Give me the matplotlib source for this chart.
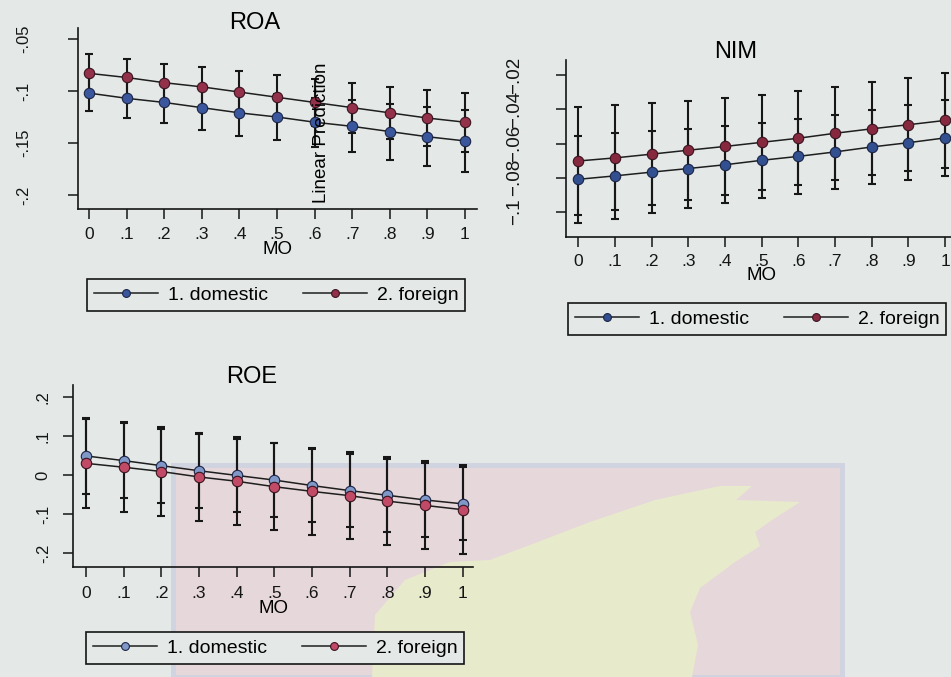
import matplotlib
matplotlib.use("Agg")
import matplotlib.pyplot as plt
from matplotlib.patches import Rectangle, Polygon

plt.rcParams['font.family'] = ['Liberation Sans', 'DejaVu Sans']

# margins over MO (0..1) for domestic / foreign banks, with CI half widths
mo = [0, .1, .2, .3, .4, .5, .6, .7, .8, .9, 1]
mo_labels = ["0", ".1", ".2", ".3", ".4", ".5", ".6", ".7", ".8", ".9", "1"]
groups = ["1. domestic", "2. foreign"]

roa_dom = [-0.102, -0.107, -0.111, -0.116, -0.121, -0.125, -0.130, -0.134, -0.139, -0.144, -0.148]
roa_dom_ci = [0.0177, 0.0186, 0.0199, 0.0212, 0.0221, 0.0225, 0.0236, 0.0250, 0.0269, 0.0282, 0.0301]
roa_for = [-0.083, -0.087, -0.092, -0.096, -0.101, -0.106, -0.111, -0.116, -0.121, -0.126, -0.130]
roa_for_ci = [0.0183, 0.0178, 0.0183, 0.0188, 0.0207, 0.0214, 0.0226, 0.0240, 0.0250, 0.0266, 0.0282]

nim_dom = [-0.0809, -0.0789, -0.0767, -0.0746, -0.0724, -0.0698, -0.0675, -0.0649, -0.0620, -0.0595, -0.0567]
nim_dom_ci = [0.0254, 0.0249, 0.0240, 0.0228, 0.0224, 0.0220, 0.0217, 0.0214, 0.0217, 0.0219, 0.0222]
nim_for = [-0.0702, -0.0684, -0.0662, -0.0639, -0.0617, -0.0593, -0.0569, -0.0540, -0.0514, -0.0490, -0.0465]
nim_for_ci = [0.0318, 0.0307, 0.0297, 0.0289, 0.0285, 0.0278, 0.0275, 0.0273, 0.0271, 0.0270, 0.0275]

roe_dom = [0.049, 0.037, 0.024, 0.011, -0.001, -0.013, -0.027, -0.040, -0.052, -0.064, -0.074]
roe_dom_ci = [0.097, 0.096, 0.095, 0.095, 0.094, 0.094, 0.094, 0.094, 0.094, 0.094, 0.094]
roe_for = [0.030, 0.020, 0.009, -0.005, -0.016, -0.030, -0.042, -0.053, -0.067, -0.078, -0.089]
roe_for_ci = [0.115, 0.115, 0.114, 0.113, 0.113, 0.112, 0.112, 0.112, 0.113, 0.113, 0.114]

roa_ticks = [-0.2, -0.15, -0.1, -0.05]
roa_ticklabels = ["-.2", "-.15", "-.1", "-.05"]
nim_ticks = [-0.1, -0.08, -0.06, -0.04, -0.02]
nim_ticklabels = ["\u2212.1", "\u2212.08", "\u2212.06", "\u2212.04", "\u2212.02"]
roe_ticks = [-0.2, -0.1, 0, 0.1, 0.2]
roe_ticklabels = ["-.2", "-.1", "0", ".1", ".2"]

W, H = 951, 677
BG = '#e4e9e8'


def px_rect(left, top, right, bottom):
    return [left / W, 1 - bottom / H, (right - left) / W, (bottom - top) / H]


def fig_xy(x, y):
    return x / W, 1 - y / H


def draw_panel(ax, dom, dom_ci, forn, forn_ci, cols, xlim, ylim, yticks, ylabels,
               ysize, ypad, xpad, legend_at):
    ax.patch.set_visible(False)
    for s in ['top', 'right']:
        ax.spines[s].set_visible(False)
    for s in ['left', 'bottom']:
        ax.spines[s].set_linewidth(1.2)
        ax.spines[s].set_color('#151515')

    ax.errorbar(mo, dom, yerr=dom_ci, fmt='none', ecolor='#171717',
                elinewidth=1.5, capsize=3, capthick=1.5, zorder=2)
    ax.errorbar(mo, forn, yerr=forn_ci, fmt='none', ecolor='#171717',
                elinewidth=1.5, capsize=3, capthick=1.5, zorder=2)
    l1, = ax.plot(mo, dom, '-o', color='#1e1e1e', lw=1.1, ms=7.5,
                  mfc=cols[0], mec='#1c2445', mew=0.8, zorder=3, label=groups[0])
    l2, = ax.plot(mo, forn, '-o', color='#1e1e1e', lw=1.1, ms=7.5,
                  mfc=cols[1], mec='#3a1420', mew=0.8, zorder=3, label=groups[1])

    ax.set_xlim(*xlim)
    ax.set_ylim(*ylim)
    ax.set_xticks(mo)
    ax.set_xticklabels(mo_labels, fontsize=12.5)
    ax.set_yticks(yticks)
    ax.set_yticklabels(ylabels, fontsize=ysize, rotation=90, va='center')
    ax.tick_params(axis='x', length=7, width=1.1, pad=xpad, colors='#151515')
    ax.tick_params(axis='y', length=7, width=1.1, pad=ypad, colors='#151515')
    ax.set_xlabel('MO', fontsize=13.5, labelpad=-1)

    leg = ax.legend(handles=[l1, l2], ncol=2, loc='center',
                    bbox_to_anchor=fig_xy(*legend_at), bbox_transform=fig.transFigure,
                    fontsize=14, frameon=True, fancybox=False, edgecolor='#151515',
                    facecolor=BG, framealpha=1, handlelength=3.3, handletextpad=0.5,
                    columnspacing=1.8, borderpad=0.35, markerscale=0.75)
    leg.get_frame().set_linewidth(1.2)


fig = plt.figure(figsize=(W / 100, H / 100), dpi=100, facecolor=BG)

# faint crest watermark behind the lower panel
fig.patches.append(Rectangle(fig_xy(173, 677), (842 - 173) / W, (677 - 465) / H,
                             transform=fig.transFigure, facecolor='#e6d8da',
                             edgecolor='#d0d3e0', lw=3.5, zorder=-2))
crest = [(372, 677), (375, 615), (405, 580), (450, 562), (490, 560), (530, 545),
         (590, 522), (655, 500), (720, 486), (752, 486), (736, 500), (800, 502),
         (772, 520), (755, 532), (760, 546), (735, 562), (700, 588), (690, 612),
         (698, 645), (692, 677)]
fig.patches.append(Polygon([fig_xy(x, y) for x, y in crest], closed=True,
                           transform=fig.transFigure, facecolor='#e8eacc',
                           edgecolor='none', zorder=-1))

ax_roa = fig.add_axes(px_rect(78, 28, 477, 209))
draw_panel(ax_roa, roa_dom, roa_dom_ci, roa_for, roa_for_ci, ['#3a579e', '#93304a'],
           (-0.029, 1.032), (-0.2135, -0.0394), roa_ticks, roa_ticklabels,
           12, 27, 6, (276, 295))

ax_nim = fig.add_axes(px_rect(566, 60, 958, 237))
draw_panel(ax_nim, nim_dom, nim_dom_ci, nim_for, nim_for_ci, ['#32508f', '#86283e'],
           (-0.033, 1.035), (-0.1146, -0.0112), nim_ticks, nim_ticklabels,
           13.5, 24, 5, (757, 319))

ax_roe = fig.add_axes(px_rect(73, 385, 473, 567))
draw_panel(ax_roe, roe_dom, roe_dom_ci, roe_for, roe_for_ci, ['#7f98c8', '#c14a66'],
           (-0.0345, 1.027), (-0.236, 0.231), roe_ticks, roe_ticklabels,
           12, 9, 7, (275, 648))

fig.text(*fig_xy(255, 23), 'ROA', fontsize=17, ha='center', va='center')
fig.text(*fig_xy(736, 52), 'NIM', fontsize=17, ha='center', va='center')
fig.text(*fig_xy(252, 377), 'ROE', fontsize=17, ha='center', va='center')
fig.text(*fig_xy(322, 133), 'Linear Prediction', fontsize=13.5, rotation=90,
         ha='center', va='center')

fig.savefig('out.png', dpi=100, facecolor=BG)
